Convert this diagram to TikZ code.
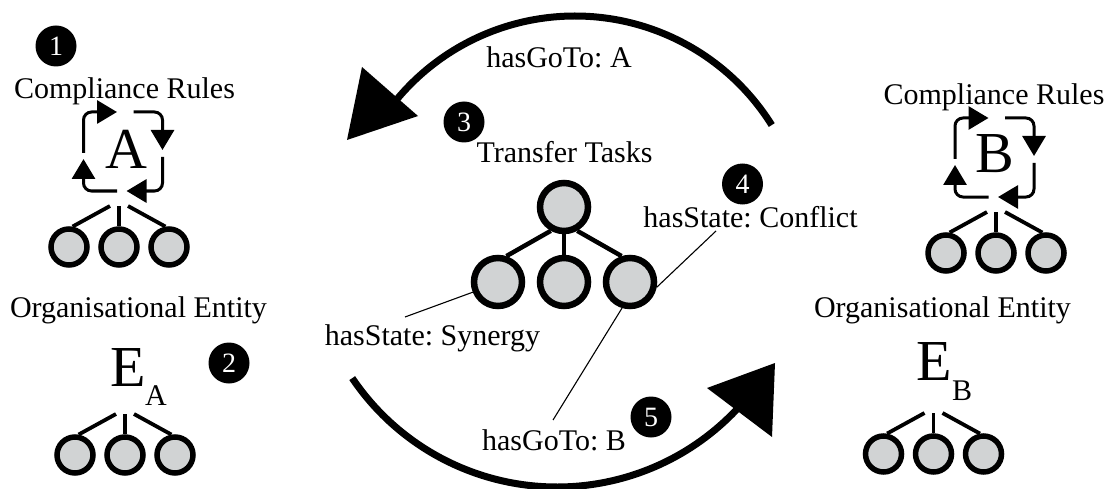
\documentclass[tikz,border=0pt]{standalone}
\usepackage{fontspec}
\setmainfont{Liberation Serif}
\usetikzlibrary{arrows.meta}
\frenchspacing
\definecolor{nodegray}{HTML}{D1D3D4}
\tikzset{
  lbl/.style={font=\fontsize{30}{30}\selectfont, inner sep=0pt, anchor=base},
  bigletter/.style={font=\fontsize{58}{58}\selectfont, inner sep=0pt, anchor=base},
  subletter/.style={font=\fontsize{30}{30}\selectfont, inner sep=0pt, anchor=base west},
  num/.style={circle, fill=black, text=white, minimum size=41pt, inner sep=0pt, font=\fontsize{28}{28}\selectfont},
  smallc/.style={circle, draw=black, fill=nodegray, line width=5.5pt, minimum size=36pt, inner sep=0pt},
  bigc/.style={circle, draw=black, fill=nodegray, line width=6.5pt, minimum size=48pt, inner sep=0pt},
  spoke/.style={line width=3.8pt},
  bigspoke/.style={line width=4.5pt},
  leader/.style={line width=1.1pt},
  cyc/.style={line width=3pt, rounded corners=8pt, -{Triangle[length=20pt,width=23pt]}},
  bigarc/.style={line width=7pt},
}
\newcommand{\smalltree}[3]{%
  \coordinate (#1top) at (#2,#3-41);
  \node[smallc] (#1l) at (#2-50,#3) {};
  \node[smallc] (#1m) at (#2,#3) {};
  \node[smallc] (#1r) at (#2+50,#3) {};
  \draw[spoke] ([xshift=-9pt]#1top) -- (#1l.80);
  \draw[spoke] (#1top) -- (#1m.north);
  \draw[spoke] ([xshift=9pt]#1top) -- (#1r.100);
}
\newcommand{\rulecycle}[2]{%
  \begin{scope}[shift={(#1,#2)}]
    \draw[cyc] (-39.5,1.5) -- (-39.5,-39.5) -- (-6,-39.5);
    \draw[cyc] (10.5,-39.5) -- (39.5,-39.5) -- (39.5,-1.5);
    \draw[cyc] (39.5,5.5) -- (39.5,39.5) -- (3.5,39.5);
    \draw[cyc] (-6,39.5) -- (-39.5,39.5) -- (-39.5,7.5);
  \end{scope}
}
\begin{document}
\begin{tikzpicture}[x=1pt,y=-1pt]
\useasboundingbox (0,0) rectangle (1110,489);

% ---- left side
\node[num] (n1) at (56,46) {1};
\node[lbl] (cr1) at (124.5,99) {Compliance Rules};
\rulecycle{123}{151.5}
\node[bigletter] (A) at (126,168) {A};
\smalltree{ta}{119}{247}
\node[lbl] (oe1) at (138.5,317) {Organisational Entity};
\node[bigletter, anchor=base west] (EA) at (110,386) {E};
\node[subletter] (EAs) at (145,405) {A};
\node[num] (n2) at (229,363) {2};
\smalltree{te}{125}{455}

% ---- right side
\node[lbl] (cr2) at (994,105) {Compliance Rules};
\rulecycle{994.5}{157.5}
\node[bigletter] (B) at (995,173) {B};
\smalltree{tb}{996}{253}
\node[lbl] (oe2) at (942.5,317) {Organisational Entity};
\node[bigletter, anchor=base west] (EB) at (916,380) {E};
\node[subletter] (EBs) at (952,400) {B};
\smalltree{tf}{933.5}{454}

% ---- centre
\node[lbl] (goA) at (559,68) {hasGoTo: A};
\node[num] (n3) at (464,122) {3};
\node[lbl] (tt) at (564.5,163) {Transfer Tasks};
\node[num] (n4) at (742.5,184) {4};
\node[lbl] (conf) at (750.5,227) {hasState: Conflict};
\node[lbl] (syn) at (432.5,345) {hasState: Synergy};
\node[lbl] (goB) at (554,450) {hasGoTo: B};
\node[num] (n5) at (651,417) {5};

\node[bigc] (T) at (564,207) {};
\node[bigc] (L) at (498,282) {};
\node[bigc] (M) at (564,282) {};
\node[bigc] (R) at (630,282) {};
\draw[bigspoke] (T.241) -- (L.72);
\draw[bigspoke] (T.south) -- (M.north);
\draw[bigspoke] (T.299) -- (R.108);

\coordinate (synend) at (405,317);
\coordinate (confend) at (716,231);
\coordinate (gobend) at (553,420);
\draw[leader] (L.202) -- (synend);
\draw[leader] (R.349) -- (confend);
\draw[leader] (R.253) -- (gobend);

% ---- big arcs
\coordinate (ctop) at (575,248);
\coordinate (cbot) at (557,240);
\draw[bigarc] ([shift={(-32:232)}]ctop) arc[start angle=-32, end angle=-140, radius=232];
\coordinate (tipA) at (347,140);
\coordinate (tipA1) at (362,67);
\coordinate (tipA2) at (418,116);
\fill (tipA) -- (tipA1) -- (tipA2) -- cycle;
\draw[bigarc] ([shift={(146:247)}]cbot) arc[start angle=146, end angle=42, radius=247];
\coordinate (tipB) at (775,363);
\coordinate (tipB1) at (707,388);
\coordinate (tipB2) at (772,437);
\fill (tipB) -- (tipB1) -- (tipB2) -- cycle;
\end{tikzpicture}
\end{document}
